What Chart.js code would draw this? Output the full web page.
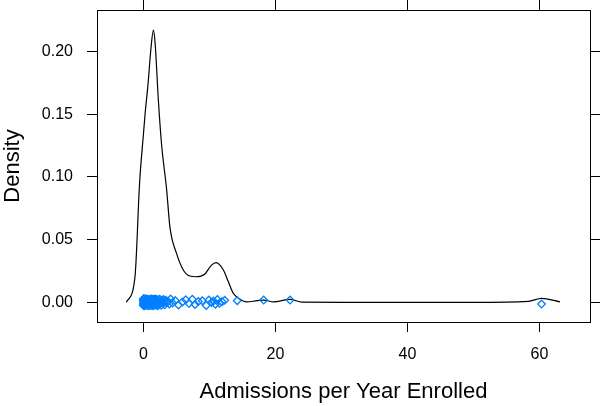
<!DOCTYPE html>
<html>
<head>
<meta charset="utf-8">
<script src="https://cdn.jsdelivr.net/npm/chart.js@4.4.1/dist/chart.umd.min.js"></script>
<style>
  html, body { margin: 0; padding: 0; background: #ffffff; }
  #wrap { width: 601px; height: 406px; }
</style>
</head>
<body>
<div id="wrap"><canvas id="c" width="601" height="406"></canvas></div>
<script>
// Density curve (x, density)
const densityX = [-2.6, -1.3, -0.6, 0, 0.25, 0.7, 1.1, 1.5, 1.75, 2.25, 2.75, 3.5, 4.0, 5.0, 6.0, 7.0, 8.0, 9.3, 10.3, 11.0, 12.1, 12.85, 13.6, 14.4, 15.6, 17.2, 18.2, 19.7, 22.2, 24, 30, 40, 50, 58.3, 60.3, 63.1];
const densityY = [0, 0.020, 0.095, 0.135, 0.151, 0.175, 0.201, 0.217, 0.207, 0.161, 0.125, 0.090, 0.060, 0.039, 0.026, 0.021, 0.0204, 0.0226, 0.0297, 0.0316, 0.0258, 0.0164, 0.0072, 0.0032, 0.0003, 0.0013, 0.0018, 0.0003, 0.0024, 0.0001, 0, 0, 0, 0.0008, 0.0032, 0.0004];

// Raw observations (plotted jittered around zero)
const obsX = [
  0, 0, 0, 0, 0, 0, 0, 0, 0, 0, 0, 0,
  0.05, 0.1, 0.1, 0.15, 0.2, 0.2, 0.25, 0.3, 0.3, 0.35, 0.4, 0.4, 0.45, 0.5, 0.5, 0.55, 0.6, 0.6, 0.65, 0.7, 0.7, 0.75, 0.8, 0.8, 0.85, 0.9, 0.9, 0.95,
  1.0, 1.0, 1.0, 1.05, 1.1, 1.1, 1.15, 1.2, 1.2, 1.25, 1.3, 1.3, 1.35, 1.4, 1.4, 1.45,
  1.5, 1.5, 1.5, 1.55, 1.6, 1.6, 1.65, 1.7, 1.7, 1.75, 1.8, 1.8, 1.85, 1.9, 1.9, 1.95,
  2.0, 2.0, 2.05, 2.1, 2.15, 2.2, 2.25, 2.3, 2.4, 2.45, 2.5, 2.6, 2.7, 2.8, 2.9,
  3.0, 3.1, 3.2, 3.35, 3.5, 3.7, 3.9, 4.1, 4.4,
  4.8, 5.3, 5.9, 6.4, 6.9, 7.4, 7.8, 8.3, 8.9, 9.5, 9.9, 10.3, 10.6, 10.9, 11.2, 11.5, 11.9, 12.3,
  14.2, 18.2, 22.2, 60.3
];
const obsJitter = [
  0.0020, -0.0018, 0.0027, -0.0026, 0.0004, 0.0011, -0.0009, 0.0023, -0.0014, 0.0015, -0.0023, 0.0027,
  -0.0008, 0.0019, -0.0027, 0.0008, 0.0024, -0.0019, 0.0028, -0.0004, 0.0001, -0.0025, 0.0017, 0.0009,
  -0.0017, 0.0026, -0.0010, 0.0014, -0.0022, 0.0005, 0.0022, -0.0013, 0.0010, -0.0028, 0.0006, 0.0018,
  -0.0021, 0.0009, -0.0006, 0.0025, -0.0016, 0.0012, 0.0003, -0.0024, 0.0021, -0.0011, 0.0016, -0.0003,
  0.0026, -0.0020, 0.0007, -0.0027, 0.0013, 0.0020, -0.0007, 0.0002, -0.0018, 0.0024, -0.0012, 0.0011,
  0.0015, -0.0026, 0.0021, -0.0002, 0.0008, -0.0015, 0.0027, -0.0009, 0.0018, -0.0022, 0.0004, 0.0012,
  -0.0019, 0.0023, -0.0005, 0.0010, -0.0028, 0.0016, 0.0000, -0.0012, 0.0025, -0.0016, 0.0007, 0.0019,
  -0.0024, 0.0013, -0.0008, 0.0022, 0.0005, -0.0020, 0.0017, -0.0003, 0.0009, -0.0013, 0.0026, -0.0006,
  0.0014, -0.0021, 0.0003, 0.0020, -0.0010, 0.0024, -0.0017, 0.0006, 0.0012, -0.0025, 0.0018, -0.0001,
  0.0010, -0.0015, 0.0022, -0.0008, 0.0005, 0.0016, 0.0013, 0.0018, 0.0018, -0.0014
];

const xTickValues = [0, 20, 40, 60];
const yTickValues = [0, 0.05, 0.10, 0.15, 0.20];
const xTitle = 'Admissions per Year Enrolled';
const yTitle = 'Density';

const xMin = -7.05, xMax = 67.65, yMin = -0.0157, yMax = 0.2331;

const curve = densityX.map((x, i) => ({ x: x, y: densityY[i] }));
const obs = obsX.map((x, i) => ({ x: x, y: obsJitter[i] }));

const FONT = "'Liberation Sans', Arial, sans-serif";

function fixTicks(values) {
  return function (scale) { scale.ticks = values.map(v => ({ value: v })); };
}
function fitBox(w, h) {
  return function (s) {
    if (w !== null) s.width = w;
    if (h !== null) s.height = h;
    s.paddingTop = 0; s.paddingBottom = 0; s.paddingLeft = 0; s.paddingRight = 0;
  };
}

new Chart(document.getElementById('c'), {
  type: 'scatter',
  data: {
    datasets: [
      {
        label: 'density',
        data: curve,
        showLine: true,
        borderColor: '#000000',
        borderWidth: 1.2,
        pointRadius: 0,
        fill: false,
        cubicInterpolationMode: 'monotone',
        order: 2
      },
      {
        label: 'obs',
        data: obs,
        pointStyle: 'rectRot',
        pointRadius: 3.8,
        pointBorderColor: '#0080ff',
        pointBackgroundColor: 'rgba(0,0,0,0)',
        pointBorderWidth: 1.3,
        showLine: false,
        order: 1
      }
    ]
  },
  options: {
    responsive: false,
    animation: false,
    devicePixelRatio: 1,
    layout: { padding: 0 },
    plugins: { legend: { display: false }, tooltip: { enabled: false } },
    scales: {
      x: {
        type: 'linear', position: 'bottom', min: xMin, max: xMax,
        afterBuildTicks: fixTicks(xTickValues),
        afterFit: fitBox(null, 84),
        grid: { drawOnChartArea: false, drawTicks: true, tickLength: 10, color: '#000000', tickWidth: 1 },
        border: { display: true, color: '#000000', width: 1 },
        ticks: { color: '#000000', font: { family: FONT, size: 16 }, padding: 13, maxRotation: 0, autoSkip: false,
                 callback: v => String(v) },
        title: { display: true, text: xTitle, color: '#000000', font: { family: FONT, size: 22 }, padding: { top: 0, bottom: 1 } }
      },
      x2: {
        type: 'linear', position: 'top', min: xMin, max: xMax,
        afterBuildTicks: fixTicks(xTickValues),
        afterFit: fitBox(null, 10),
        grid: { drawOnChartArea: false, drawTicks: true, tickLength: 10, color: '#000000' },
        border: { display: true, color: '#000000', width: 1 },
        ticks: { display: false }
      },
      y: {
        type: 'linear', position: 'left', min: yMin, max: yMax,
        afterBuildTicks: fixTicks(yTickValues),
        afterFit: fitBox(97, null),
        grid: { drawOnChartArea: false, drawTicks: true, tickLength: 10, color: '#000000' },
        border: { display: true, color: '#000000', width: 1 },
        ticks: { color: '#000000', font: { family: FONT, size: 16 }, padding: 14, autoSkip: false,
                 callback: v => Number(v).toFixed(2) },
        title: { display: true, text: yTitle, color: '#000000', font: { family: FONT, size: 22 }, padding: { top: 0, bottom: 0 } }
      },
      y2: {
        type: 'linear', position: 'right', min: yMin, max: yMax,
        afterBuildTicks: fixTicks(yTickValues),
        afterFit: fitBox(11, null),
        grid: { drawOnChartArea: false, drawTicks: true, tickLength: 10, color: '#000000' },
        border: { display: true, color: '#000000', width: 1 },
        ticks: { display: false }
      }
    }
  }
});
</script>
</body>
</html>
